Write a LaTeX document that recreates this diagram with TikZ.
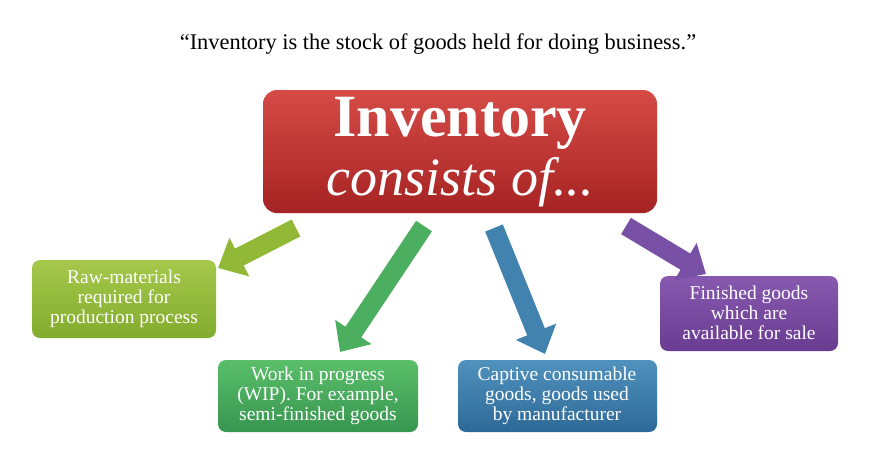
\documentclass[tikz,border=0pt]{standalone}
\usepackage{fontspec}
\setmainfont{Liberation Serif}
\usetikzlibrary{arrows.meta}
\definecolor{redT}{RGB}{214,75,70}
\definecolor{redB}{RGB}{165,35,35}
\definecolor{g1T}{RGB}{165,200,75}\definecolor{g1B}{RGB}{130,172,45}
\definecolor{g2T}{RGB}{90,190,105}\definecolor{g2B}{RGB}{55,150,80}
\definecolor{b3T}{RGB}{80,145,190}\definecolor{b3B}{RGB}{45,105,150}
\definecolor{p4T}{RGB}{135,90,175}\definecolor{p4B}{RGB}{105,60,145}
\definecolor{a1}{RGB}{145,185,55}\definecolor{a2}{RGB}{75,175,95}
\definecolor{a3}{RGB}{65,130,175}\definecolor{a4}{RGB}{120,80,165}
\begin{document}
\begin{tikzpicture}[x=1pt,y=-1pt,
 box/.style={text=white,align=center,font=\fontsize{19.5}{20}\selectfont,inner sep=0pt},
 barrow/.style={line width=19pt,-{Triangle[length=24pt,width=42pt]}},
]
\useasboundingbox (0,0) rectangle (876,461);
\node (q) at (438,44) {\fontsize{22.4}{24}\selectfont “Inventory is the stock of goods held for doing business.”};
\shade[rounded corners=14pt,top color=redT,bottom color=redB] (263,90) rectangle (657,213);
\node[text=white] (m1) at (460,123) {\fontsize{60}{60}\selectfont\bfseries Inventory};
\node[text=white] (m2) at (460,182) {\fontsize{54}{54}\selectfont\itshape consists of...};
\shade[rounded corners=8pt,top color=g1T,bottom color=g1B] (32,260) rectangle (216,338);
\node[box] (b1) at (124,299) {Raw-materials\\required for\\production process};
\shade[rounded corners=8pt,top color=g2T,bottom color=g2B] (218,360) rectangle (418,432);
\node[box] (b2) at (318,396) {Work in progress\\(WIP). For example,\\semi-finished goods};
\shade[rounded corners=8pt,top color=b3T,bottom color=b3B] (458,360) rectangle (657,432);
\node[box] (b3) at (557,396) {Captive consumable\\goods, goods used\\by manufacturer};
\shade[rounded corners=8pt,top color=p4T,bottom color=p4B] (660,276) rectangle (838,351);
\node[box] (b4) at (749,313) {Finished goods\\which are\\available for sale};
\coordinate (a1s) at (296,228); \coordinate (a1e) at (218,268);
\coordinate (a2s) at (424,226); \coordinate (a2e) at (340,352);
\coordinate (a3s) at (494,228); \coordinate (a3e) at (545,354);
\coordinate (a4s) at (626,226); \coordinate (a4e) at (706,274);
\draw[barrow,a1] (a1s) -- (a1e);
\draw[barrow,a2] (a2s) -- (a2e);
\draw[barrow,a3] (a3s) -- (a3e);
\draw[barrow,a4] (a4s) -- (a4e);
\end{tikzpicture}
\end{document}
